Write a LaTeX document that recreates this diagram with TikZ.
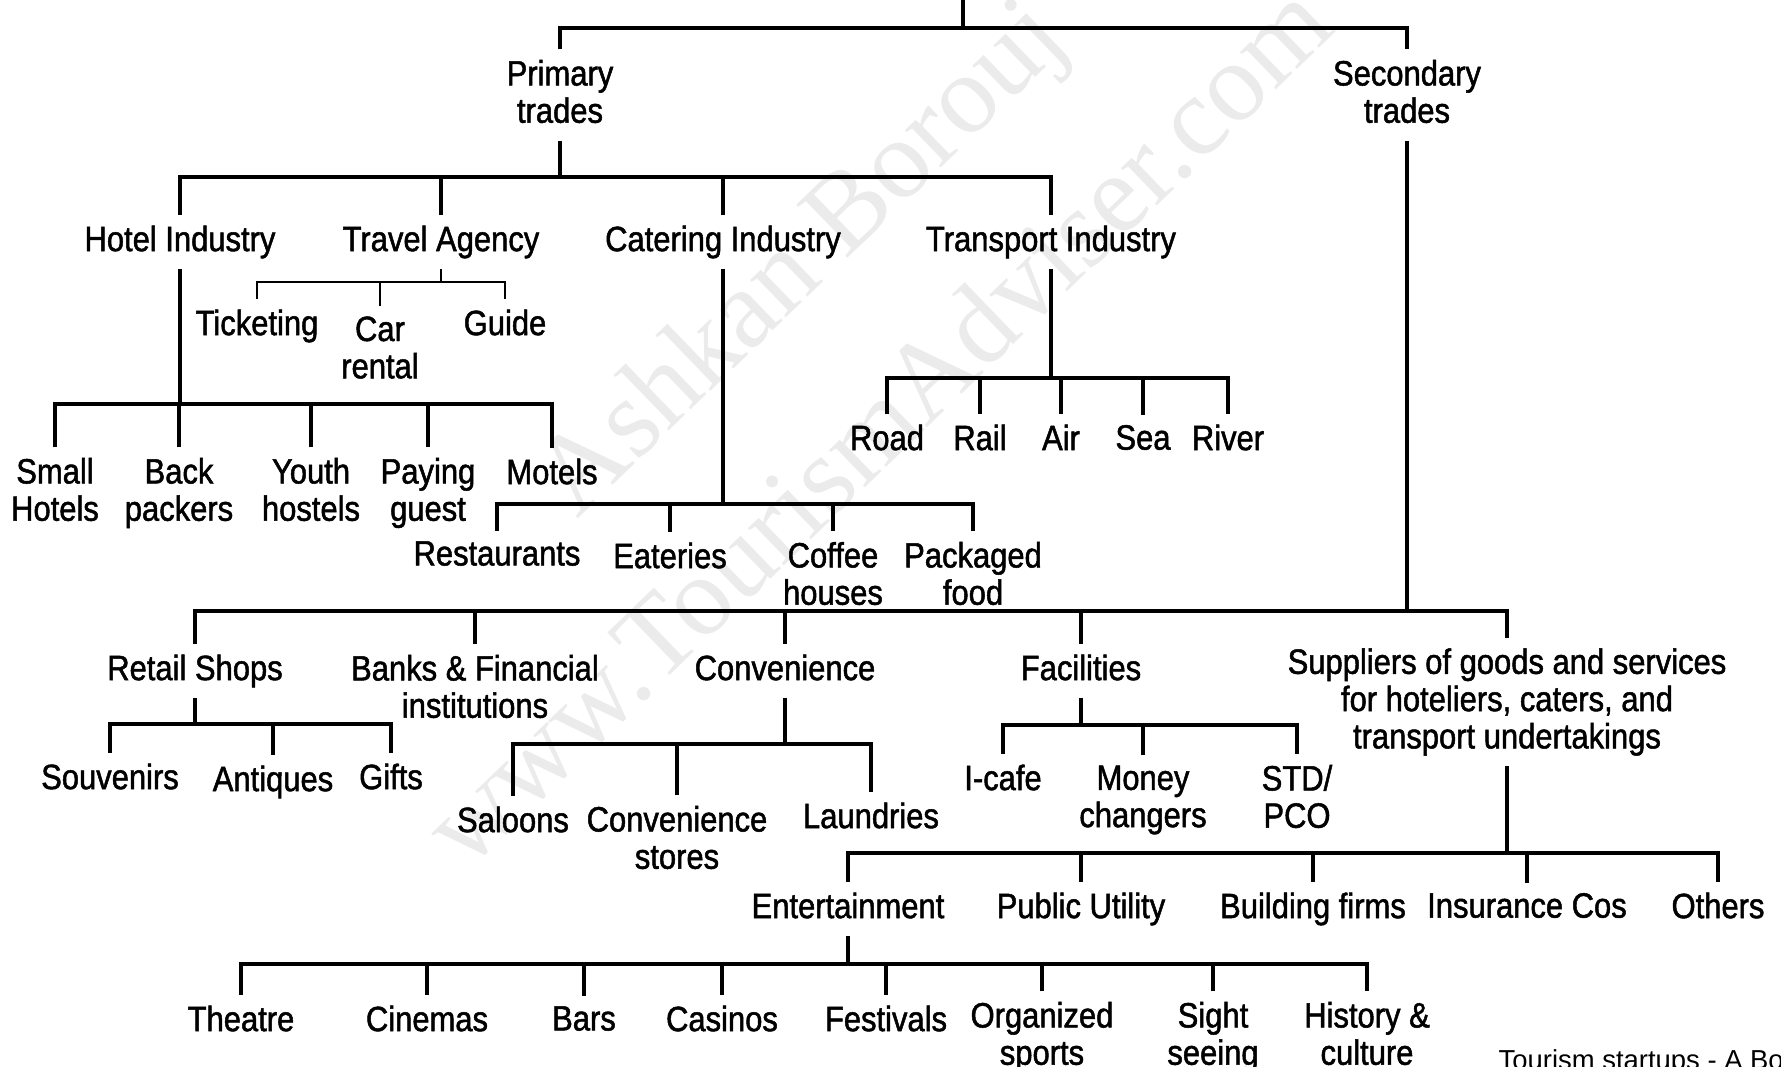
\documentclass[tikz,border=0pt]{standalone}
\usepackage{fontspec}
\setmainfont{Liberation Sans}
\newfontfamily\condfont[FakeStretch=0.88,FakeBold=1.4]{Liberation Sans}
\newfontfamily\markfont{Liberation Serif}

\begin{document}
\begin{tikzpicture}[x=0.01cm, y=-0.01cm,
    lbl/.style={font=\condfont\fontsize{10}{10.6}\selectfont, align=center,
      inner sep=2.8pt, execute at begin node={\vphantom{Apg}}},
    br/.style={line width=0.95pt},
    thinbr/.style={line width=0.5pt},
    wmark/.style={font=\markfont\fontsize{32}{36}\selectfont, text=black!8, rotate=44}]
    \useasboundingbox (0,0) rectangle (1781,1066);
    \clip (0,0) rectangle (1781,1066);
    \node[wmark] (wmname) at (805,262) {Ashkan Borouj};
    \node[wmark] (wmsite) at (876,424) {www.TourismAdviser.com};

    \node[lbl] (primary) at (560,95) {Primary\\trades};
    \node[lbl] (secondary) at (1407,95) {Secondary\\trades};
    \coordinate (root) at (963,0);
    \coordinate (topbar) at (0,28);
    \draw[br] (root) -- (root |- topbar);
    \draw[br] (primary) |- (secondary |- topbar) -- (secondary);

    \node[lbl] (hotel) at (180,242) {Hotel Industry};
    \node[lbl] (travel) at (441,242) {Travel Agency};
    \node[lbl] (catering) at (723,242) {Catering Industry};
    \node[lbl] (transport) at (1051,242) {Transport Industry};
    \coordinate (primbar) at (0,177);
    \draw[br] (primary) -- (primary |- primbar);
    \draw[br] (hotel) |- (transport |- primbar) -- (transport);
    \draw[br] (travel) -- (travel |- primbar);
    \draw[br] (catering) -- (catering |- primbar);

    \node[lbl] (ticketing) at (257,326) {Ticketing};
    \node[lbl] (carrental) at (380,351) {Car\\rental};
    \node[lbl] (guide) at (505,326) {Guide};
    \coordinate (travelbar) at (0,282);
    \draw[thinbr] (travel) -- (travel |- travelbar);
    \draw[thinbr] (ticketing) |- (guide |- travelbar) -- (guide);
    \draw[thinbr] (carrental) -- (carrental |- travelbar);

    \node[lbl] (smallhotels) at (55,493) {Small\\Hotels};
    \node[lbl] (backpackers) at (179,493) {Back\\packers};
    \node[lbl] (youthhostels) at (311,493) {Youth\\hostels};
    \node[lbl] (payingguest) at (428,493) {Paying\\guest};
    \node[lbl] (motels) at (552,475) {Motels};
    \coordinate (hotelbar) at (0,404);
    \draw[br] (hotel) -- (hotel |- hotelbar);
    \draw[br] (smallhotels) |- (motels |- hotelbar) -- (motels);
    \draw[br] (backpackers) -- (backpackers |- hotelbar);
    \draw[br] (youthhostels) -- (youthhostels |- hotelbar);
    \draw[br] (payingguest) -- (payingguest |- hotelbar);

    \node[lbl] (restaurants) at (497,557) {Restaurants};
    \node[lbl] (eateries) at (670,559) {Eateries};
    \node[lbl] (coffee) at (833,577) {Coffee\\houses};
    \node[lbl] (packaged) at (973,577) {Packaged\\food};
    \coordinate (cateringbar) at (0,504);
    \draw[br] (catering) -- (catering |- cateringbar);
    \draw[br] (restaurants) |- (packaged |- cateringbar) -- (packaged);
    \draw[br] (eateries) -- (eateries |- cateringbar);
    \draw[br] (coffee) -- (coffee |- cateringbar);

    \node[lbl] (road) at (887,441) {Road};
    \node[lbl] (rail) at (980,441) {Rail};
    \node[lbl] (air) at (1061,441) {Air};
    \node[lbl] (sea) at (1143,441) {Sea};
    \node[lbl] (river) at (1228,441) {River};
    \coordinate (transportbar) at (0,378);
    \draw[br] (transport) -- (transport |- transportbar);
    \draw[br] (road) |- (river |- transportbar) -- (river);
    \draw[br] (rail) -- (rail |- transportbar);
    \draw[br] (air) -- (air |- transportbar);
    \draw[br] (sea) -- (sea |- transportbar);

    \node[lbl] (retail) at (195,671) {Retail Shops};
    \node[lbl] (banks) at (475,690) {Banks \& Financial\\institutions};
    \node[lbl] (convenience) at (785,671) {Convenience};
    \node[lbl] (facilities) at (1081,671) {Facilities};
    \node[lbl] (suppliers) at (1507,702) {Suppliers of goods and services\\for hoteliers, caters, and\\transport undertakings};
    \coordinate (secbar) at (0,611);
    \draw[br] (secondary) -- (secondary |- secbar);
    \draw[br] (retail) |- (suppliers |- secbar) -- (suppliers);
    \draw[br] (banks) -- (banks |- secbar);
    \draw[br] (convenience) -- (convenience |- secbar);
    \draw[br] (facilities) -- (facilities |- secbar);

    \node[lbl] (souvenirs) at (110,780) {Souvenirs};
    \node[lbl] (antiques) at (273,782) {Antiques};
    \node[lbl] (gifts) at (391,780) {Gifts};
    \coordinate (retailbar) at (0,724);
    \draw[br] (retail) -- (retail |- retailbar);
    \draw[br] (souvenirs) |- (gifts |- retailbar) -- (gifts);
    \draw[br] (antiques) -- (antiques |- retailbar);

    \node[lbl] (saloons) at (513,823) {Saloons};
    \node[lbl] (convstores) at (677,841) {Convenience\\stores};
    \node[lbl] (laundries) at (871,819) {Laundries};
    \coordinate (convbar) at (0,744);
    \draw[br] (convenience) -- (convenience |- convbar);
    \draw[br] (saloons) |- (laundries |- convbar) -- (laundries);
    \draw[br] (convstores) -- (convstores |- convbar);

    \node[lbl] (icafe) at (1003,781) {I-cafe};
    \node[lbl] (money) at (1143,800) {Money\\changers};
    \node[lbl] (stdpco) at (1297,800) {STD/\\PCO};
    \coordinate (facbar) at (0,725);
    \draw[br] (facilities) -- (facilities |- facbar);
    \draw[br] (icafe) |- (stdpco |- facbar) -- (stdpco);
    \draw[br] (money) -- (money |- facbar);

    \node[lbl] (entertainment) at (848,909) {Entertainment};
    \node[lbl] (publicutility) at (1081,909) {Public Utility};
    \node[lbl] (building) at (1313,909) {Building firms};
    \node[lbl] (insurance) at (1527,909) {Insurance Cos};
    \node[lbl] (others) at (1718,909) {Others};
    \coordinate (supbar) at (0,853);
    \draw[br] (suppliers) -- (suppliers |- supbar);
    \draw[br] (entertainment) |- (others |- supbar) -- (others);
    \draw[br] (publicutility) -- (publicutility |- supbar);
    \draw[br] (building) -- (building |- supbar);
    \draw[br] (insurance) -- (insurance |- supbar);

    \node[lbl] (theatre) at (241,1022) {Theatre};
    \node[lbl] (cinemas) at (427,1022) {Cinemas};
    \node[lbl] (bars) at (584,1022) {Bars};
    \node[lbl] (casinos) at (722,1022) {Casinos};
    \node[lbl] (festivals) at (886,1022) {Festivals};
    \node[lbl] (organized) at (1042,1037) {Organized\\sports};
    \node[lbl] (sightseeing) at (1213,1037) {Sight\\seeing};
    \node[lbl] (history) at (1367,1037) {History \&\\culture};
    \coordinate (entbar) at (0,964);
    \draw[br] (entertainment) -- (entertainment |- entbar);
    \draw[br] (theatre) |- (history |- entbar) -- (history);
    \foreach \n in {cinemas,bars,casinos,festivals,organized,sightseeing}
      \draw[br] (\n) -- (\n |- entbar);

    \node[anchor=base west, inner sep=0pt, font=\fontsize{7.8}{9}\selectfont] (source) at (1498,1069) {Tourism startups - A Bo};
\end{tikzpicture}
\end{document}
